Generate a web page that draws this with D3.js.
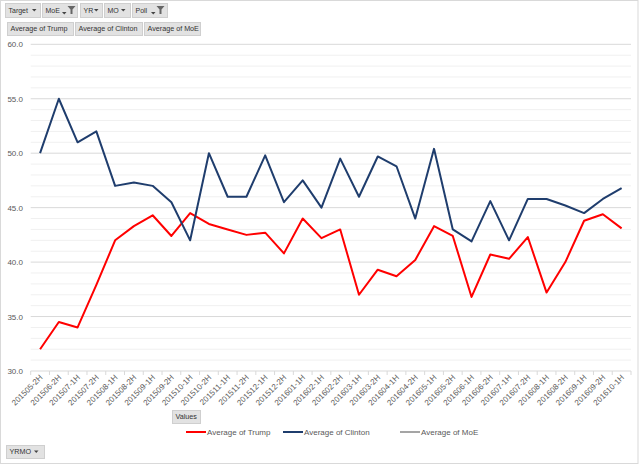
<!DOCTYPE html>
<html><head><meta charset="utf-8">
<script src="https://cdn.jsdelivr.net/npm/d3@7"></script>
<style>
body{margin:0;background:#fff;}
svg{display:block;font-family:"Liberation Sans",Arial,sans-serif;}
</style></head><body>
<svg id="c" width="640" height="465"></svg>
<script>
const categories = ["201505-2H","201506-2H","201507-1H","201507-2H","201508-1H","201508-2H","201509-1H","201509-2H","201510-1H","201510-2H","201511-1H","201511-2H","201512-1H","201512-2H","201601-1H","201602-1H","201602-2H","201603-1H","201603-2H","201604-1H","201604-2H","201605-1H","201605-2H","201606-1H","201606-2H","201607-1H","201607-2H","201608-1H","201608-2H","201609-1H","201609-2H","201610-1H"];
const trump = [32.0,34.5,34.0,37.9,42.0,43.3,44.3,42.4,44.5,43.5,43.0,42.5,42.7,40.8,44.0,42.2,43.0,37.0,39.3,38.7,40.2,43.3,42.4,36.8,40.7,40.3,42.3,37.2,40.0,43.8,44.4,43.1];
const clinton = [50.0,55.0,51.0,52.0,47.0,47.3,47.0,45.5,42.0,50.0,46.0,46.0,49.8,45.5,47.5,45.0,49.5,46.0,49.7,48.8,44.0,50.4,43.0,41.9,45.6,42.0,45.8,45.8,45.2,44.5,45.8,46.8];
const yTicks = [30,35,40,45,50,55,60];
const seriesNames = ["Average of Trump","Average of Clinton","Average of MoE"];
const seriesColors = ["#ff0000","#1f3d6d","#a5a5a5"];
const topButtons = ["Target","MoE","YR","MO","Poll"];
const topFiltered = [false,true,false,false,true];

const svg = d3.select("#c");
svg.append("rect").attr("x",0.5).attr("y",0.5).attr("width",637.5).attr("height",463)
  .attr("fill","#fff").attr("stroke","#d9d9d9");

const x = d3.scaleBand().domain(categories).range([30.7,631]);
const y = d3.scaleLinear().domain([30,60]).range([371,44.3]);

// minor gridlines
const minor = d3.range(31,60).filter(v=>v%5!==0);
svg.append("g").selectAll("line").data(minor).join("line")
  .attr("x1",30.7).attr("x2",631).attr("y1",d=>y(d)).attr("y2",d=>y(d))
  .attr("stroke","#f0f0f0").attr("stroke-width",1);
svg.append("g").selectAll("line").data(yTicks.filter(v=>v>30)).join("line")
  .attr("x1",30.7).attr("x2",631).attr("y1",d=>y(d)).attr("y2",d=>y(d))
  .attr("stroke","#d9d9d9").attr("stroke-width",1);

// y axis labels
const ya = svg.append("g").attr("transform","translate(23,0)")
  .call(d3.axisLeft(y).tickValues(yTicks).tickSize(0).tickPadding(0).tickFormat(d3.format(".1f")));
ya.select(".domain").remove();
ya.selectAll("text").attr("fill","#595959").attr("font-size","8px").attr("font-family","Liberation Sans, Arial, sans-serif");

// x axis
svg.append("line").attr("x1",30.7).attr("x2",631).attr("y1",371).attr("y2",371).attr("stroke","#d9d9d9");
const bounds = categories.map(c=>x(c)).concat([631]);
svg.append("g").selectAll("line").data(bounds).join("line")
  .attr("x1",d=>d).attr("x2",d=>d).attr("y1",371).attr("y2",375).attr("stroke","#d9d9d9");
svg.append("g").selectAll("text").data(categories).join("text")
  .attr("transform",d=>`translate(${x(d)+x.bandwidth()/2+3},${378}) rotate(-45)`)
  .attr("text-anchor","end").attr("font-size","8px").attr("fill","#595959").text(d=>d);

// lines
const line = d3.line().x((d,i)=>x(categories[i])+x.bandwidth()/2).y(d=>y(d));
svg.append("path").datum(trump).attr("d",line).attr("fill","none").attr("stroke",seriesColors[0]).attr("stroke-width",2).attr("stroke-linejoin","round");
svg.append("path").datum(clinton).attr("d",line).attr("fill","none").attr("stroke",seriesColors[1]).attr("stroke-width",2).attr("stroke-linejoin","round");

// button helper
function button(g, bx, by, w, h, label, fs){
  g.append("rect").attr("x",bx+0.5).attr("y",by+0.5).attr("width",w).attr("height",h)
    .attr("fill","#e2e2e2").attr("stroke","#cfcfcf");
  g.append("text").attr("x",bx+3.5).attr("y",by+h/2+2.6).attr("font-size",(fs||7.5)+"px").attr("fill","#333").text(label);
}
function arrow(g, ax, ay){
  g.append("path").attr("d",`M${ax},${ay} l4.5,0 l-2.25,2.6 z`).attr("fill","#444");
}
function funnel(g, fx, fy){
  g.append("path").attr("d",`M${fx},${fy} l8,0 l-3,3.5 l0,4.5 l-2,0 l0,-4.5 z`).attr("fill","#666");
}

// top field buttons
const tb = svg.append("g");
const bxs = [5,42,80,104,132];
const bws = [35,35,22,26,35];
const arrowX = [32,62,94,121,151];
topButtons.forEach((name,i)=>{
  button(tb,bxs[i],3,bws[i],14,name,7);
  if(topFiltered[i]){ arrow(tb,arrowX[i],12); funnel(tb,arrowX[i]+5.5,6); }
  else arrow(tb,arrowX[i],9);
});
// values buttons
const vb = svg.append("g");
const vw = [66,67,56];
let vx = 7;
seriesNames.forEach((n,i)=>{ button(vb,vx,22,vw[i],13,n,7.2); vx += vw[i]+2; });

// Values button
button(svg.append("g"),172,410,28,13,"Values",7.2);

// legend
const lg = svg.append("g");
const lx = [186,283,400];
seriesNames.forEach((n,i)=>{
  lg.append("line").attr("x1",lx[i]).attr("x2",lx[i]+20).attr("y1",432).attr("y2",432)
    .attr("stroke",seriesColors[i]).attr("stroke-width",2);
  lg.append("text").attr("x",lx[i]+21).attr("y",435).attr("font-size","8px").attr("fill","#595959").text(n);
});

// YRMO button
const yb = svg.append("g");
button(yb,6,445,38,13,"YRMO",7.2);
arrow(yb,34,450.5);
</script>
</body></html>
